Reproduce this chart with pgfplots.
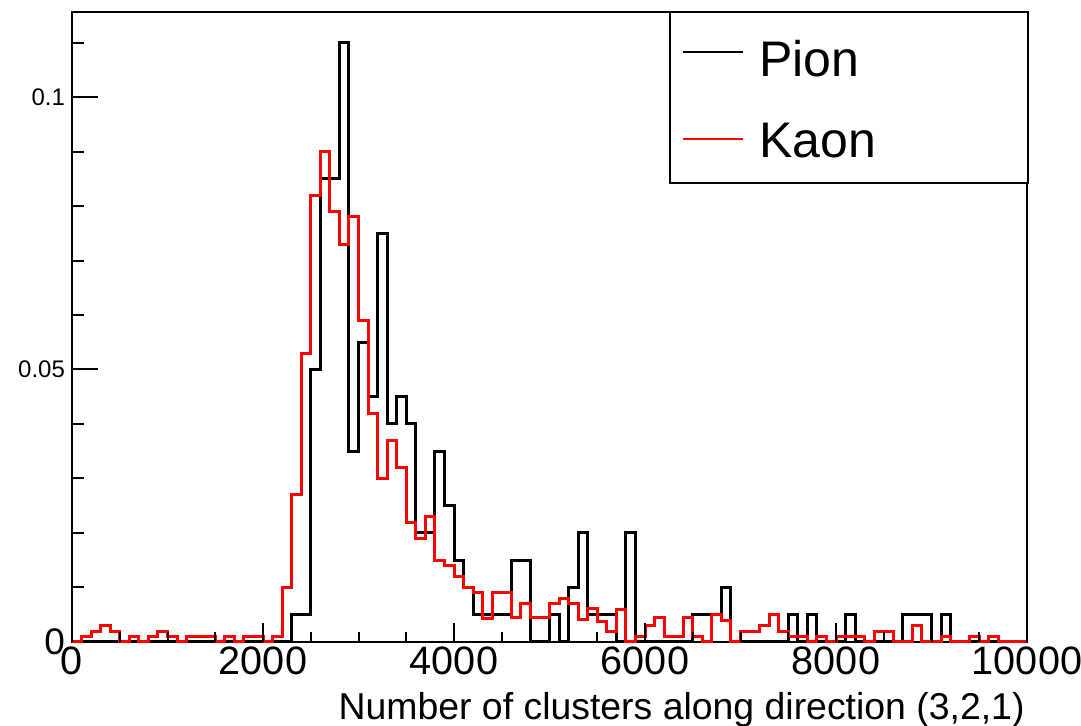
\documentclass[border=0pt]{standalone}
\usepackage{fontspec}
\setmainfont{Liberation Sans}
\usepackage{pgfplots}
\usepackage{pgfplotstable}
\pgfplotsset{compat=1.18}

% bin lower edge, pion and kaon contents (normalised)
\pgfplotstableread{
x pion kaon
0 0 0
100 0 0.001
200 0 0.002
300 0 0.003
400 0 0.002
500 0 0
600 0 0.001
700 0 0
800 0 0.001
900 0 0.002
1000 0 0.001
1100 0 0
1200 0 0.001
1300 0 0.001
1400 0 0.001
1500 0 0
1600 0 0.001
1700 0 0
1800 0 0.001
1900 0 0.001
2000 0 0
2100 0 0.001
2200 0 0.010
2300 0.005 0.027
2400 0.005 0.053
2500 0.050 0.082
2600 0.085 0.090
2700 0.085 0.079
2800 0.110 0.073
2900 0.035 0.078
3000 0.055 0.059
3100 0.045 0.042
3200 0.075 0.030
3300 0.040 0.037
3400 0.045 0.032
3500 0.040 0.022
3600 0.020 0.019
3700 0.020 0.023
3800 0.035 0.015
3900 0.025 0.014
4000 0.015 0.012
4100 0.010 0.010
4200 0.005 0.009
4300 0.005 0.0043
4400 0.005 0.009
4500 0.005 0.009
4600 0.015 0.0045
4700 0.015 0.007
4800 0 0.0045
4900 0 0.0045
5000 0.005 0.007
5100 0 0.008
5200 0.010 0.007
5300 0.020 0.0042
5400 0.005 0.0062
5500 0.005 0.0038
5600 0.005 0.002
5700 0 0.006
5800 0.020 0
5900 0 0.001
6000 0 0.003
6100 0 0.0045
6200 0 0.001
6300 0 0.001
6400 0 0.0045
6500 0.005 0.001
6600 0.005 0
6700 0.005 0.005
6800 0.010 0.004
6900 0 0
7000 0 0.002
7100 0 0.002
7200 0 0.003
7300 0 0.005
7400 0 0.002
7500 0.005 0.001
7600 0 0.001
7700 0.005 0
7800 0 0.001
7900 0 0
8000 0 0.001
8100 0.005 0.001
8200 0 0.001
8300 0 0
8400 0 0.002
8500 0 0.002
8600 0 0
8700 0.005 0
8800 0.005 0.003
8900 0.005 0
9000 0 0
9100 0.005 0.001
9200 0 0
9300 0 0
9400 0 0.001
9500 0 0
9600 0 0.001
9700 0 0
9800 0 0
9900 0 0
10000 0 0
}\histdata

\begin{document}
\begin{tikzpicture}
\pgfplotsset{
  rootframe/.style={
    scale only axis, width=477.5pt, height=315pt,
    xmin=0, xmax=10000, ymin=0, ymax=0.1156,
    scaled x ticks=false, scaled y ticks=false,
    clip=false, tick align=inside, tick pos=left,
    every tick/.style={black, line width=1pt},
  },
}
% frame, y ticks and the two histograms
\begin{axis}[rootframe, name=ax,
    axis line style={line width=1.1pt},
    xtick=\empty,
    ytick={0,0.05,0.1},
    yticklabels={{\fontsize{18.5}{20}\selectfont\raisebox{-2.5pt}{0}},0.05,0.1},
    minor ytick={0.01,0.02,0.03,0.04,0.06,0.07,0.08,0.09,0.11},
    major tick length=13pt, minor tick length=6pt,
    yticklabel style={font=\fontsize{12}{14}\selectfont},
]
  \addplot[const plot, black, line width=1.5pt] table[x=x, y=pion] {\histdata};
  \addplot[const plot, red, line width=1.5pt] table[x=x, y=kaon] {\histdata};

  % legend box
  \draw[line width=1pt, fill=white] (axis cs:6262,0.08422) rectangle (axis cs:10010,0.1156);
  \draw[black, line width=1.4pt] (axis cs:6395,0.10826) -- (axis cs:7026,0.10826);
  \draw[red, line width=1.4pt] (axis cs:6395,0.09229) -- (axis cs:7026,0.09229);
  \node[anchor=base west, inner sep=0pt, font=\fontsize{25}{30}\selectfont]
    at (axis cs:7194,0.10385) {Pion};
  \node[anchor=base west, inner sep=0pt, font=\fontsize{25}{30}\selectfont]
    at (axis cs:7194,0.08881) {Kaon};
\end{axis}
% x ticks, labels and title
\begin{axis}[rootframe,
    axis line style={draw=none},
    ytick=\empty,
    xtick={0,2000,4000,6000,8000,10000},
    xticklabels={0,2000,4000,6000,8000,10000},
    minor xtick={500,1000,1500,2500,3000,3500,4500,5000,5500,6500,7000,7500,8500,9000,9500},
    major tick length=9.5pt, minor tick length=5pt,
    xticklabel style={font=\fontsize{19.8}{22}\selectfont, yshift=1pt},
    xlabel={Number of clusters along direction (3,2,1)},
    xlabel style={at={(axis description cs:1,0)}, anchor=base east,
      inner sep=0pt, yshift=-39pt, xshift=-1pt,
      font=\fontsize{18.7}{22}\selectfont},
]
  \addplot[draw=none] coordinates {(0,0)};
\end{axis}
\pgfresetboundingbox
\path ([shift={(-36pt,-42pt)}]ax.south west) rectangle ([shift={(27pt,6pt)}]ax.north east);
\end{tikzpicture}
\end{document}
